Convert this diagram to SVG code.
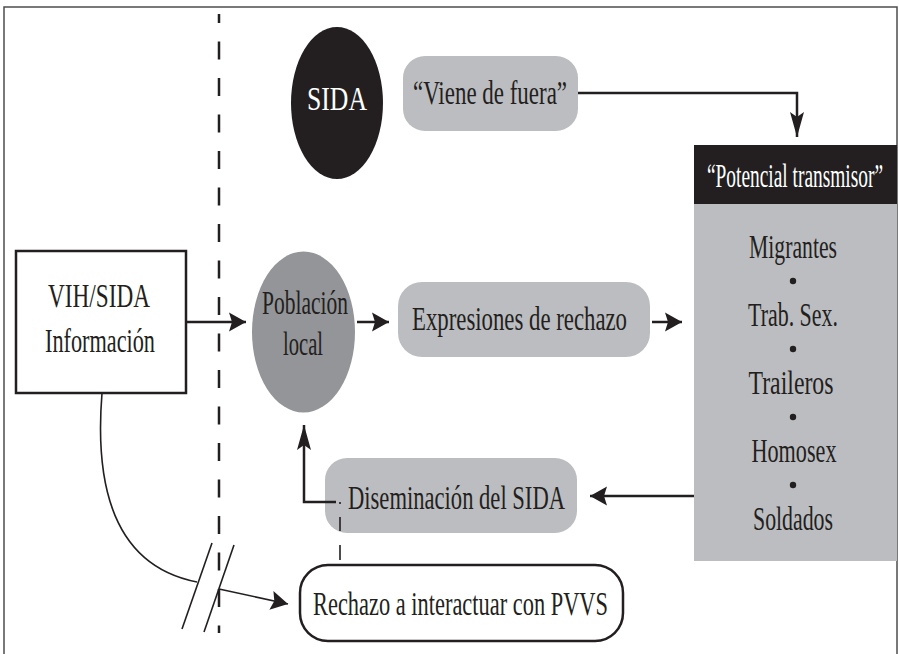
<svg xmlns="http://www.w3.org/2000/svg" width="899" height="654" viewBox="0 0 899 654">
<style>
.t{font-family:"Liberation Serif","Times New Roman",serif;font-size:33px;fill:#231f20;text-anchor:middle}
.w{fill:#ffffff}
.lg{fill:#bcbdc0}
.ln{fill:none;stroke:#231f20;stroke-width:2.5}
.thin{fill:none;stroke:#231f20;stroke-width:1.6}
</style>
<defs>
<marker id="a1" markerUnits="userSpaceOnUse" markerWidth="18" markerHeight="22" refX="17" refY="11" orient="auto">
<path d="M17,11 L0,1.5 L3,11 L0,20.5 Z" fill="#231f20"/>
</marker>
<marker id="a2" markerUnits="userSpaceOnUse" markerWidth="26" markerHeight="14" refX="25" refY="7" orient="auto">
<path d="M25,7 L0,0 L5,7 L0,14 Z" fill="#231f20"/>
</marker>
</defs>
<rect width="899" height="654" fill="#ffffff"/>
<path d="M4,654 V7 H897 V654" fill="none" stroke="#4d4d4f" stroke-width="1.5"/>
<line x1="219" y1="14" x2="219" y2="633" stroke="#231f20" stroke-width="2.5" stroke-dasharray="18 18.5" stroke-dashoffset="9"/>

<g id="sida">
<ellipse cx="337" cy="103" rx="46" ry="76" fill="#231f20"/>
<text class="t w" x="337" y="110" textLength="60" lengthAdjust="spacingAndGlyphs">SIDA</text>
</g>
<g id="viene">
<rect class="lg" x="403" y="56" width="175" height="75" rx="22"/>
<text class="t" x="490" y="104" textLength="154" lengthAdjust="spacingAndGlyphs">“Viene de fuera”</text>
</g>
<g id="potencial">
<rect x="694" y="145" width="203" height="59" fill="#231f20"/>
<rect class="lg" x="694" y="204" width="203" height="357"/>
<text class="t w" transform="translate(795,187) scale(0.587,1)" x="0" y="0" textLength="300" lengthAdjust="spacingAndGlyphs">“Potencial transmisor”</text>
<text class="t" x="793" y="258" textLength="88" lengthAdjust="spacingAndGlyphs">Migrantes</text>
<circle cx="793" cy="281" r="3.2" fill="#231f20"/>
<text class="t" x="793" y="326" textLength="90" lengthAdjust="spacingAndGlyphs">Trab. Sex.</text>
<circle cx="793" cy="349" r="3.2" fill="#231f20"/>
<text class="t" x="791" y="394" textLength="85" lengthAdjust="spacingAndGlyphs">Traileros</text>
<circle cx="793" cy="417" r="3.2" fill="#231f20"/>
<text class="t" x="794" y="462" textLength="85" lengthAdjust="spacingAndGlyphs">Homosex</text>
<circle cx="793" cy="485" r="3.2" fill="#231f20"/>
<text class="t" x="793" y="530" textLength="80" lengthAdjust="spacingAndGlyphs">Soldados</text>
</g>
<g id="vih">
<rect x="16" y="251" width="170" height="142" fill="#ffffff" stroke="#231f20" stroke-width="2.5"/>
<text class="t" x="99" y="307" textLength="102" lengthAdjust="spacingAndGlyphs">VIH/SIDA</text>
<text class="t" x="100" y="352" textLength="110" lengthAdjust="spacingAndGlyphs">Información</text>
</g>
<g id="poblacion">
<ellipse cx="303.5" cy="332" rx="51.5" ry="80.5" fill="#939598"/>
<text class="t" x="305" y="314" textLength="86" lengthAdjust="spacingAndGlyphs">Población</text>
<text class="t" x="303" y="355" textLength="40" lengthAdjust="spacingAndGlyphs">local</text>
</g>
<g id="expresiones">
<rect class="lg" x="398" y="282" width="252" height="75" rx="24"/>
<text class="t" x="519.5" y="330" textLength="215" lengthAdjust="spacingAndGlyphs">Expresiones de rechazo</text>
</g>
<g id="diseminacion">
<rect class="lg" x="325" y="458" width="252" height="75" rx="22"/>
<text class="t" x="456.5" y="509" textLength="217" lengthAdjust="spacingAndGlyphs">Diseminación del SIDA</text>
</g>
<g id="rechazo">
<rect x="300" y="565" width="323" height="76" rx="28" fill="#ffffff" stroke="#231f20" stroke-width="2.5"/>
<text class="t" x="460.5" y="615" textLength="295" lengthAdjust="spacingAndGlyphs">Rechazo a interactuar con PVVS</text>
</g>

<g id="connectors">
<path class="ln" d="M578,93 H797 V137" marker-end="url(#a2)"/>
<line class="ln" x1="186" y1="322" x2="246" y2="322" marker-end="url(#a1)"/>
<line class="ln" x1="357" y1="322" x2="389" y2="322" marker-end="url(#a1)"/>
<line class="ln" x1="652" y1="322" x2="682" y2="322" marker-end="url(#a1)"/>
<line class="ln" x1="694" y1="496" x2="590" y2="496" marker-end="url(#a1)"/>
<path class="ln" d="M336,502 H304 V425" marker-end="url(#a2)"/>
<line x1="340" y1="502" x2="340" y2="560" stroke="#231f20" stroke-width="1.6" stroke-dasharray="2 13 14 14 15"/>
<path class="thin" d="M102,393 C95,480 110,565 197,582" stroke-width="2"/>
<line class="thin" x1="219" y1="589" x2="288" y2="604" stroke-width="2" marker-end="url(#a1)"/>
<line class="thin" x1="182" y1="629" x2="212" y2="543"/>
<line class="thin" x1="204" y1="632" x2="234" y2="545"/>
</g>
</svg>
